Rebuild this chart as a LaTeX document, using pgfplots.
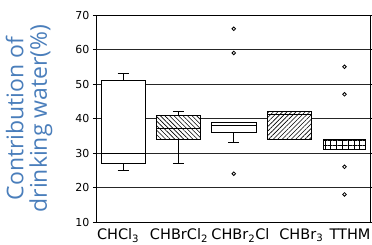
\documentclass[border=0pt]{standalone}
\usepackage{pgfplots}
\pgfplotsset{compat=1.18}
\usepgfplotslibrary{statistics}
\usetikzlibrary{patterns,patterns.meta}
\usepackage{fontspec}
\setmainfont{DejaVu Sans}
\newfontfamily\labelfont{Open Sans}
\definecolor{labelblue}{RGB}{74,126,187}
\begin{document}
\begin{tikzpicture}
\begin{axis}[
 at={(0,0)}, anchor=south west,
 scale only axis, width=274.5bp, height=207bp,
 xmin=-0.49, xmax=4.47, ymin=10, ymax=70,
 ytick={10,20,...,70},
 xtick={-0.09,1.01,2.12,3.22,4.1},
 xticklabels={CHCl\textsubscript{3}, CHBrCl\textsubscript{2}, CHBr\textsubscript{2}Cl, CHBr\textsubscript{3}, TTHM},
 x tick label style={font=\fontsize{14.5bp}{16bp}\selectfont},
 y tick label style={font=\fontsize{11bp}{13bp}\selectfont},
 /pgf/number format/assume math mode=true,
 ymajorgrids, grid style={black!85, line width=0.8bp},
 tick align=outside,
 xtick style={draw=none},
 ytick style={black, line width=0.6bp},
 major tick length=3bp,
 axis line style={line width=0.8bp},
 ylabel={Contribution of\\drinking water(\%)},
 ylabel style={at={(axis description cs:-0.244,0.5)}, anchor=center, align=center, text=labelblue, font=\labelfont\fontsize{23bp}{23.5bp}\selectfont},
 boxplot/draw direction=y,
 every axis plot/.append style={line width=0.8bp},
]
\addplot[black, mark=none, boxplot prepared={draw position=0, lower whisker=25, lower quartile=27, median=30, upper quartile=51, upper whisker=53, box extend=0.8, whisker extend=0.2, every box/.style={fill=white}}] coordinates {};
\addplot[black, mark=none, boxplot prepared={draw position=1, lower whisker=27, lower quartile=34, median=37, upper quartile=41, upper whisker=42, box extend=0.8, whisker extend=0.2, every box/.style={fill=white, postaction={pattern={Lines[angle=-45,distance=3.2bp,line width=0.6bp]}}}}] coordinates {};
\addplot[black, mark=o, mark size=1.8bp, mark options={solid, line width=0.8bp}, boxplot prepared={draw position=2, lower whisker=33, lower quartile=36, median=38, upper quartile=39, upper whisker=39, box extend=0.8, whisker extend=0.2, every box/.style={fill=white}}] coordinates {(0,66) (0,59) (0,24)};
\addplot[black, mark=none, boxplot prepared={draw position=3, lower whisker=34, lower quartile=34, median=41.3, upper quartile=42, upper whisker=42, box extend=0.8, whisker extend=0.2, every box/.style={fill=white, postaction={pattern={Lines[angle=45,distance=3.2bp,line width=0.6bp]}}}}] coordinates {};
\addplot[black, mark=o, mark size=1.8bp, mark options={solid, line width=0.8bp}, boxplot prepared={draw position=4, lower whisker=31, lower quartile=31, median=31, upper quartile=34, upper whisker=34, box extend=0.75, whisker extend=0.2, every box/.style={fill=white, postaction={pattern={Lines[angle=90,distance=5.8bp,line width=0.6bp]}}, postaction={pattern={Lines[angle=0,distance=5bp,line width=0.6bp]}}}}] coordinates {(0,55) (0,47) (0,26) (0,18)};
\end{axis}
\pgfresetboundingbox
\path (-96bp,-23bp) rectangle (276bp,222bp);
\end{tikzpicture}
\end{document}
